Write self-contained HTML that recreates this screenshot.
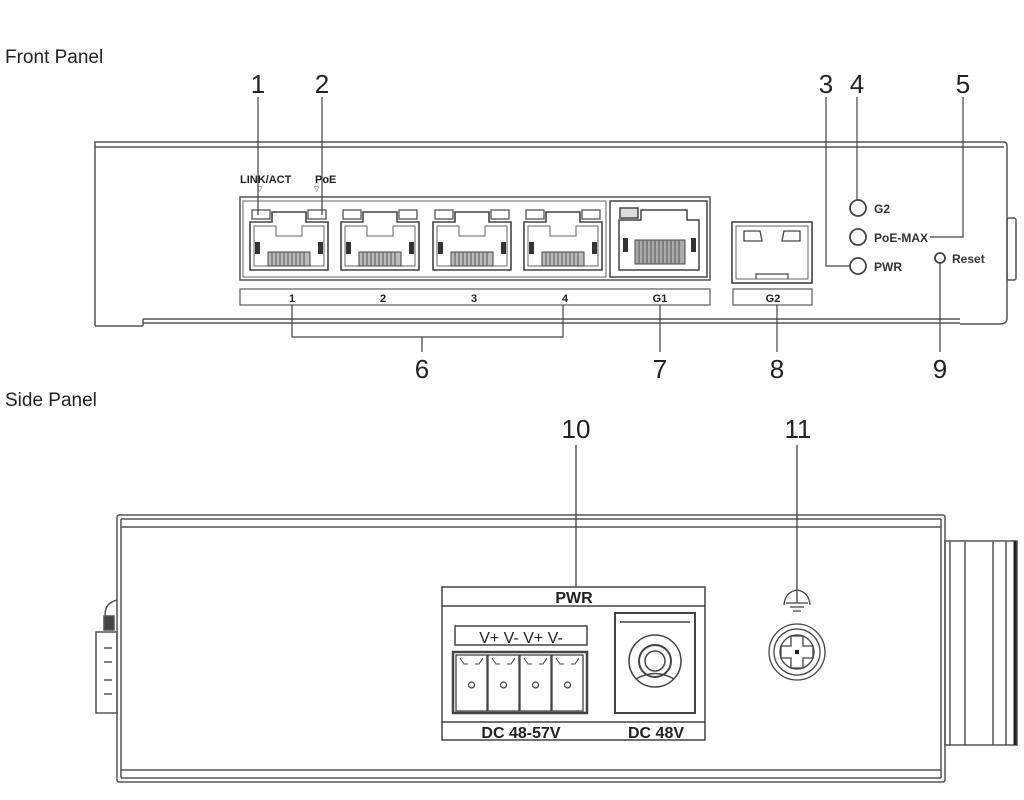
<!DOCTYPE html>
<html><head><meta charset="utf-8"><style>
html,body{margin:0;padding:0;background:#fff;}
svg{display:block;}
text{font-family:"Liberation Sans",sans-serif;}
</style></head><body>
<svg width="1024" height="800" viewBox="0 0 1024 800" xmlns="http://www.w3.org/2000/svg">
<defs>
<g id="rj">
  <rect x="4" y="4" width="18" height="9" fill="none" stroke="#555" stroke-width="1.3"/>
  <rect x="60" y="4" width="18" height="9" fill="none" stroke="#555" stroke-width="1.3"/>
  <path d="M2,16 H24 V6 H58 V16 H80 V64 H2 Z" fill="none" stroke="#444" stroke-width="1.6"/>
  <path d="M6,20 H28 V30 H54 V20 H76 V60 H6 Z" fill="none" stroke="#666" stroke-width="1"/>
  <rect x="7" y="36" width="5" height="12" fill="#333"/>
  <rect x="70" y="36" width="5" height="12" fill="#333"/>
  <rect x="20" y="46" width="42" height="14" fill="#bbb" stroke="#444" stroke-width="1"/>
  <path d="M24,46v14M28,46v14M32,46v14M36,46v14M40,46v14M44,46v14M48,46v14M52,46v14M56,46v14" stroke="#555" stroke-width="1"/>
</g>
<g id="term">
  <rect x="0" y="0" width="31" height="56" fill="none" stroke="#444" stroke-width="1.3"/>
  <path d="M4,3 l4,6 h4 M27,3 l-4,6 h-4" fill="none" stroke="#444" stroke-width="1"/>
  <circle cx="15.5" cy="30" r="3" fill="none" stroke="#444" stroke-width="1.2"/>
</g>
</defs>

<text x="5" y="63" font-size="19" fill="#222">Front Panel</text>
<text x="5" y="406" font-size="19" fill="#222">Side Panel</text>

<g fill="none" stroke="#555" stroke-width="1.5">
  <path d="M95,326 V142 H1004 Q1007,142 1007,146 V318 Q1007,324 1000,324"/>
  <path d="M95,147 H1004"/>
  <path d="M95,326 H143 M143,319 H960 M960,324 H1000"/>
  <path d="M143,319 V326 M143,323 H960"/>
  <rect x="1007" y="218" width="9" height="62" rx="2"/>
</g>

<text x="240" y="183" font-size="11" font-weight="bold" fill="#222">LINK/ACT</text>
<text x="315" y="183" font-size="11" font-weight="bold" fill="#222">PoE</text>
<text x="257" y="191" font-size="7" fill="#444">▽</text>
<text x="314" y="191" font-size="7" fill="#444">▽</text>

<rect x="240" y="197" width="470" height="83" fill="none" stroke="#555" stroke-width="1.5"/>
<rect x="243" y="201" width="363" height="76" fill="none" stroke="#666" stroke-width="1"/>
<rect x="610" y="201" width="97" height="76" fill="none" stroke="#444" stroke-width="1.5"/>
<use href="#rj" x="248" y="206"/>
<use href="#rj" x="339" y="206"/>
<use href="#rj" x="431" y="206"/>
<use href="#rj" x="522" y="206"/>
<g transform="translate(617,206)">
  <rect x="3" y="2" width="18" height="10" fill="#ddd" stroke="#444" stroke-width="1.5"/>
  <path d="M2,14 H24 V4 H70 V14 H82 V64 H2 Z" fill="none" stroke="#444" stroke-width="1.5"/>
  <rect x="6" y="32" width="5" height="14" fill="#333"/>
  <rect x="74" y="32" width="5" height="14" fill="#333"/>
  <rect x="18" y="34" width="50" height="24" fill="#aaa" stroke="#444"/>
  <path d="M22,34v24M26,34v24M30,34v24M34,34v24M38,34v24M42,34v24M46,34v24M50,34v24M54,34v24M58,34v24M62,34v24" stroke="#555"/>
</g>
<rect x="240" y="289" width="470" height="16" fill="none" stroke="#666" stroke-width="1.3"/>
<g font-size="11" font-weight="bold" fill="#222" text-anchor="middle">
  <text x="292" y="302">1</text><text x="383" y="302">2</text><text x="474" y="302">3</text><text x="565" y="302">4</text><text x="660" y="302">G1</text>
  <text x="773" y="302">G2</text>
</g>

<rect x="732" y="222" width="80" height="61" fill="none" stroke="#444" stroke-width="1.6"/>
<rect x="736" y="226" width="72" height="53" fill="none" stroke="#666" stroke-width="1"/>
<path d="M744,231 H760 L762,241 H744 Z M800,231 H784 L782,241 H800 Z" fill="none" stroke="#444" stroke-width="1.3"/>
<path d="M756,279 V274 H788 V279" fill="none" stroke="#444" stroke-width="1.2"/>
<rect x="733" y="289" width="79" height="16" fill="none" stroke="#666" stroke-width="1.3"/>

<g fill="none" stroke="#444" stroke-width="1.8">
  <circle cx="858" cy="208" r="8"/>
  <circle cx="858" cy="237" r="8"/>
  <circle cx="858" cy="266" r="8"/>
  <circle cx="940" cy="258" r="5"/>
</g>
<g font-size="12" font-weight="bold" fill="#333">
  <text x="874" y="213">G2</text>
  <text x="874" y="242">PoE-MAX</text>
  <text x="874" y="271">PWR</text>
  <text x="952" y="263">Reset</text>
</g>

<g fill="none" stroke="#444" stroke-width="1.2">
  <path d="M258,97 V215"/>
  <path d="M322,97 V215"/>
  <path d="M826,97 V266 H850"/>
  <path d="M857,97 V200"/>
  <path d="M963,97 V237 H930"/>
  <path d="M292,305 V337 H563 V305 M422,337 V352"/>
  <path d="M660,305 V352"/>
  <path d="M777,305 V352"/>
  <path d="M940,263 V352"/>
</g>
<g font-size="26" fill="#222" text-anchor="middle">
  <text x="258" y="93">1</text><text x="322" y="93">2</text>
  <text x="826" y="93">3</text><text x="857" y="93">4</text><text x="963" y="93">5</text>
  <text x="422" y="378">6</text><text x="660" y="378">7</text><text x="777" y="378">8</text><text x="940" y="378">9</text>
  <text x="576" y="438">10</text><text x="798" y="438">11</text>
</g>

<g fill="none" stroke="#555" stroke-width="1.5">
  <rect x="117" y="515" width="828" height="267" rx="2"/>
  <path d="M121,519 H941 M121,527 H941 M121,770 H941 M121,778 H941 M121,519 V778 M941,519 V778"/>
  <rect x="945" y="541" width="72" height="204"/>
  <path d="M950,541 V745 M965,541 V745 M993,541 V745 M1006,541 V745"/>
  <path d="M1015,541 V745" stroke="#222" stroke-width="3"/>
  <rect x="96" y="632" width="21" height="81"/>
  <path d="M117,600 Q102,604 106,620 M104,648 H112 M104,662 H112 M104,680 H112 M104,694 H112"/>
  <rect x="104" y="616" width="10" height="14" fill="#444"/>
</g>

<g fill="none" stroke="#444" stroke-width="1.5">
  <rect x="442" y="587" width="263" height="153"/>
  <path d="M442,606 H705 M442,722 H705"/>
  <rect x="455" y="626" width="132" height="19"/>
  <rect x="453" y="652" width="134" height="61" stroke-width="2.5"/>
  <rect x="615" y="613" width="80" height="100" stroke-width="2"/>
  <path d="M620,622 H690"/>
  <circle cx="655" cy="661" r="26"/>
  <circle cx="655" cy="661" r="16" stroke-width="2"/>
  <circle cx="655" cy="661" r="10"/>
  <path d="M636,679 Q655,668 674,679"/>
</g>
<use href="#term" x="456" y="655"/>
<use href="#term" x="488" y="655"/>
<use href="#term" x="520" y="655"/>
<use href="#term" x="552" y="655"/>
<text x="574" y="603" font-size="16" font-weight="bold" fill="#222" text-anchor="middle">PWR</text>
<text x="521" y="643" font-size="16" fill="#222" text-anchor="middle">V+ V- V+ V-</text>
<text x="521" y="738" font-size="16" font-weight="bold" fill="#222" text-anchor="middle">DC 48-57V</text>
<text x="656" y="738" font-size="16" font-weight="bold" fill="#222" text-anchor="middle">DC 48V</text>

<g fill="none" stroke="#444" stroke-width="1.3">
  <path d="M576,445 V587"/>
  <path d="M797,445 V603"/>
  <path d="M784,605 Q785,592 797,590 Q809,592 810,605"/>
  <path d="M786,603 H808 M790,607 H804 M793,611 H801"/>
  <circle cx="797" cy="652" r="28"/>
  <circle cx="797" cy="652" r="23"/>
  <circle cx="797" cy="652" r="17"/>
  <path d="M791,636 H803 V646 H813 V658 H803 V668 H791 V658 H781 V646 H791 Z"/>
</g>
<rect x="795" y="650" width="4" height="4" fill="#222"/>
</svg>
</body></html>
